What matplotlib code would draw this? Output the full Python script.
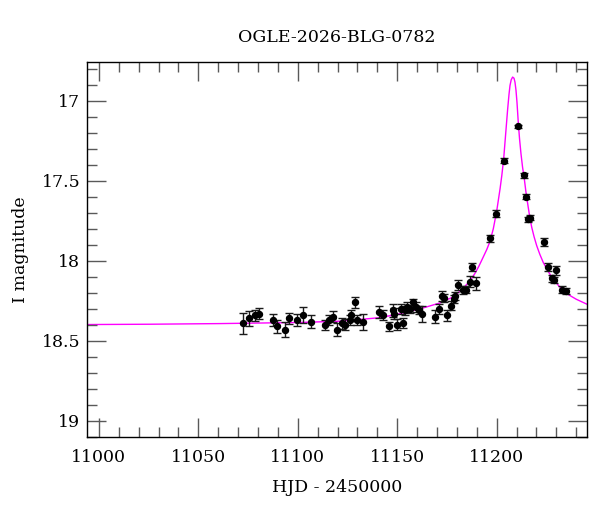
"""
Light curve of a microlensing event: I-band photometry with the model fit.
"""

import matplotlib
matplotlib.use("Agg")
import matplotlib.pyplot as plt
from matplotlib.ticker import MultipleLocator, FormatStrFormatter

# photometry (HJD - 2450000, I mag, error)
hjd = [11072.7, 11075.7, 11078.7, 11080.7, 11087.7, 11089.7, 11093.8, 11095.8,
       11099.8, 11102.8, 11106.7, 11113.9, 11115.9, 11117.9, 11119.9, 11122.0,
       11123.8, 11126.1, 11126.9, 11128.8, 11130.0, 11132.7, 11140.9, 11142.7,
       11146.0, 11147.7, 11148.6, 11149.8, 11151.8, 11152.8, 11153.9, 11155.1,
       11156.4, 11158.1, 11159.6, 11160.8, 11162.6, 11169.0, 11171.2, 11172.4,
       11173.5, 11174.9, 11176.8, 11178.3, 11179.2, 11180.7, 11182.9, 11184.6,
       11186.6, 11187.8, 11189.6, 11196.6, 11199.5, 11203.7, 11210.7, 11213.7,
       11214.7, 11215.9, 11216.7, 11223.7, 11225.8, 11227.8, 11229.8, 11228.8,
       11232.7, 11234.8]
mag = [18.39, 18.36, 18.34, 18.33, 18.37, 18.41, 18.43, 18.36,
       18.37, 18.34, 18.38, 18.40, 18.37, 18.35, 18.43, 18.39,
       18.40, 18.37, 18.34, 18.26, 18.37, 18.38, 18.32, 18.34,
       18.41, 18.31, 18.33, 18.40, 18.30, 18.39, 18.31, 18.29,
       18.30, 18.26, 18.29, 18.31, 18.33, 18.35, 18.30, 18.22,
       18.23, 18.34, 18.28, 18.24, 18.22, 18.15, 18.18, 18.18,
       18.13, 18.04, 18.14, 17.86, 17.705, 17.376, 17.161, 17.466,
       17.60, 17.74, 17.73, 17.88, 18.04, 18.11, 18.06, 18.12,
       18.18, 18.19]
err = [0.065, 0.045, 0.035, 0.035, 0.04, 0.04, 0.045, 0.035,
       0.035, 0.05, 0.04, 0.03, 0.03, 0.035, 0.04, 0.035,
       0.035, 0.03, 0.035, 0.035, 0.03, 0.05, 0.035, 0.03,
       0.03, 0.04, 0.035, 0.035, 0.03, 0.03, 0.03, 0.03,
       0.025, 0.02, 0.03, 0.025, 0.05, 0.04, 0.03, 0.03,
       0.025, 0.035, 0.03, 0.025, 0.025, 0.03, 0.025, 0.02,
       0.035, 0.025, 0.04, 0.02, 0.02, 0.015, 0.01, 0.015,
       0.015, 0.015, 0.015, 0.025, 0.025, 0.02, 0.03, 0.02,
       0.02, 0.02]

# model curve
model_hjd = [10994.1, 11025.8, 11061.0, 11101.2, 11121.3, 11141.4, 11151.4,
             11161.5, 11171.5, 11178.2, 11182.5, 11186.6, 11189.0, 11191.0,
             11193.3, 11195.0, 11196.6, 11198.3, 11200.0, 11201.7, 11202.6,
             11203.5, 11204.5, 11205.5, 11206.2, 11206.7, 11207.3, 11208.0,
             11208.7, 11209.2, 11209.7, 11210.2, 11210.9, 11211.5, 11212.2,
             11213.0, 11213.9, 11214.7, 11215.6, 11216.6, 11217.6, 11218.8,
             11220.1, 11221.7, 11223.4, 11225.8, 11228.4, 11231.8, 11235.2,
             11240.0, 11245.2]
model_mag = [18.398, 18.396, 18.392, 18.385, 18.377, 18.355, 18.33,
             18.30, 18.263, 18.225, 18.18, 18.125, 18.08, 18.035,
             17.975, 17.93, 17.88, 17.80, 17.69, 17.55, 17.465,
             17.365, 17.21, 17.055, 16.96, 16.905, 16.87, 16.853,
             16.86, 16.885, 16.935, 17.01, 17.145, 17.24, 17.33,
             17.415, 17.49, 17.57, 17.645, 17.725, 17.79, 17.85,
             17.905, 17.96, 18.01, 18.065, 18.115, 18.165, 18.205,
             18.24, 18.27]

title = "OGLE-2026-BLG-0782"
xlabel = "HJD - 2450000"
ylabel = "I magnitude"

plt.rcParams['font.family'] = ['DejaVu Serif']

fig = plt.figure(figsize=(6.0, 5.12), dpi=100)
ax = fig.add_axes([0.1455, 0.1465, 0.8325, 0.733])

ax.plot(model_hjd, model_mag, color='#ff00ff', lw=1.0, zorder=1)
ax.errorbar(hjd, mag, yerr=err, fmt='o', color='black', ms=4.3,
            ecolor='0.1', elinewidth=1.0, capsize=2.8, capthick=1.0, zorder=2)

ax.set_xlim(10994.2, 11245.3)
ax.set_ylim(19.1, 16.757)

ax.xaxis.set_major_locator(MultipleLocator(50))
ax.xaxis.set_minor_locator(MultipleLocator(10))
ax.yaxis.set_major_locator(MultipleLocator(0.5))
ax.yaxis.set_minor_locator(MultipleLocator(0.1))
ax.yaxis.set_major_formatter(FormatStrFormatter('%g'))

ax.tick_params(which='both', direction='in', top=True, right=True,
               color='0.35', labelsize=12.5)
ax.tick_params(which='major', length=13.5, width=1.0)
ax.tick_params(axis='x', which='major', pad=9)
ax.tick_params(axis='y', which='major', pad=5)
ax.tick_params(which='minor', length=7, width=1.0)
for s in ax.spines.values():
    s.set_linewidth(1.0)

ax.set_xlabel(xlabel, fontsize=12.5, labelpad=9)
ax.set_ylabel(ylabel, fontsize=12.5, labelpad=9)
ax.set_title(title, fontsize=12.5, pad=14.5)

fig.savefig("out.png", dpi=100)
